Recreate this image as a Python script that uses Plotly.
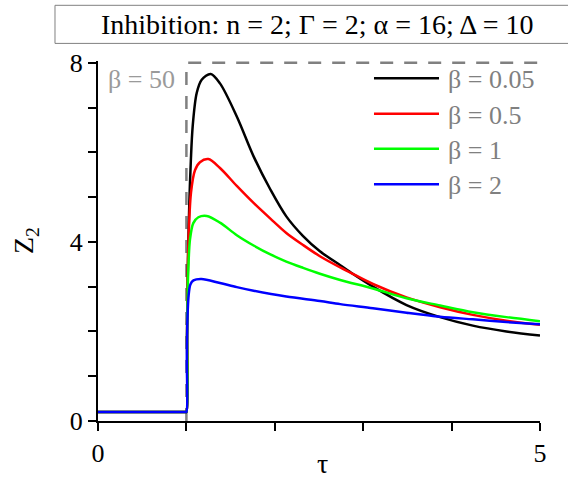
import plotly.graph_objects as go

# ---- data ----
tau_b005 = [0, 0.99, 1.0, 1.008, 1.018, 1.033, 1.05, 1.071, 1.116, 1.173, 1.275, 1.38, 1.57, 1.76,
            1.95, 2.13, 2.32, 2.51, 2.74, 2.85, 3.11, 3.49, 3.87, 4.24, 4.62, 5.0]
z_b005 = [0.2, 0.2, 0.2, 2.0, 3.62, 4.87, 5.8, 6.58, 7.32, 7.62, 7.75, 7.54, 6.80, 5.91,
          5.17, 4.57, 4.13, 3.79, 3.48, 3.33, 3.0, 2.59, 2.32, 2.13, 2.0, 1.91]

tau_b05 = [0, 0.99, 1.0, 1.008, 1.022, 1.052, 1.097, 1.153, 1.248, 1.38, 1.57, 1.76, 1.95, 2.13,
           2.32, 2.51, 2.74, 2.85, 3.11, 3.49, 3.87, 4.24, 4.62, 5.0]
z_b05 = [0.2, 0.2, 0.2, 2.0, 3.91, 5.1, 5.6, 5.78, 5.85, 5.65, 5.25, 4.87, 4.52, 4.20,
         3.93, 3.68, 3.43, 3.32, 3.06, 2.76, 2.54, 2.37, 2.24, 2.15]

tau_b1 = [0, 0.99, 1.0, 1.008, 1.02, 1.041, 1.078, 1.135, 1.23, 1.38, 1.57, 1.76, 1.95, 2.13,
          2.32, 2.51, 2.74, 3.11, 3.49, 3.87, 4.24, 4.62, 5.0]
z_b1 = [0.2, 0.2, 0.2, 2.0, 3.3, 4.06, 4.42, 4.55, 4.58, 4.43, 4.15, 3.92, 3.72, 3.56,
        3.42, 3.29, 3.15, 2.96, 2.74, 2.58, 2.43, 2.32, 2.23]

tau_b2 = [0, 0.99, 1.0, 1.005, 1.012, 1.025, 1.045, 1.08, 1.17, 1.38, 1.57, 1.76, 2.13, 2.51,
          2.74, 3.11, 3.49, 3.87, 4.24, 4.62, 5.0]
z_b2 = [0.2, 0.2, 0.2, 1.4, 2.3, 2.8, 3.05, 3.14, 3.17, 3.08, 2.99, 2.91, 2.78, 2.68,
        2.61, 2.52, 2.42, 2.33, 2.27, 2.21, 2.16]

tau_b50 = [1.0, 1.0, 5.0]
z_b50 = [0.0, 8.0, 8.0]

series_names = ["β = 0.05", "β = 0.5", "β = 1", "β = 2"]
series_colors = ["#000000", "#ff0000", "#00ff00", "#0000ff"]
x_ticks = [0, 5]
y_ticks = [0, 4, 8]
title_text = "Inhibition: n = 2; Γ = 2; α = 16; Δ = 10"

FONT = "Liberation Serif"

fig = go.Figure()
fig.add_trace(go.Scatter(x=tau_b50, y=z_b50, mode="lines", name="β = 50",
                         line=dict(color="#808080", width=2.5, dash="13px,11px"),
                         showlegend=False))
for xs, ys, nm, col in zip([tau_b005, tau_b05, tau_b1, tau_b2],
                           [z_b005, z_b05, z_b1, z_b2],
                           series_names, series_colors):
    fig.add_trace(go.Scatter(x=xs, y=ys, mode="lines", name=nm,
                             line=dict(color=col, width=2.5, shape="spline", smoothing=0.9),
                             showlegend=False))

# manual legend (longer line samples as in the reference)
leg_y = [0.9522, 0.8536, 0.7561, 0.6575]
shapes = []
annotations = []
for yy, nm, col in zip(leg_y, series_names, series_colors):
    shapes.append(dict(type="line", xref="paper", yref="paper",
                       x0=0.6244, x1=0.7715, y0=yy, y1=yy,
                       line=dict(color=col, width=2.5)))
    annotations.append(dict(xref="paper", yref="paper", x=0.7873, y=yy - 0.004,
                            xanchor="left", yanchor="middle", text=nm, showarrow=False,
                            font=dict(family=FONT, size=26, color="#808080")))

# title box
shapes.append(dict(type="rect", xref="paper", yref="paper",
                   x0=-0.0973, x1=1.2, y0=1.0489, y1=1.1547,
                   line=dict(color="#808080", width=1), fillcolor="white"))
annotations.append(dict(xref="paper", yref="paper", x=0.4977, y=1.1018,
                        xanchor="center", yanchor="middle", text=title_text,
                        showarrow=False, font=dict(family=FONT, size=28, color="black")))
# beta = 50 label
annotations.append(dict(xref="paper", yref="paper", x=0.018, y=0.9475,
                        xanchor="left", yanchor="middle", text="β = 50",
                        showarrow=False, font=dict(family=FONT, size=26, color="#9a9a9a")))
# axis titles
annotations.append(dict(xref="paper", yref="paper", x=-0.165, y=0.5,
                        xanchor="center", yanchor="middle", text="Z<sub>2</sub>",
                        textangle=-90, showarrow=False,
                        font=dict(family=FONT, size=28, color="black")))
annotations.append(dict(xref="paper", yref="paper", x=0.507, y=-0.119,
                        xanchor="center", yanchor="middle", text="τ",
                        showarrow=False, font=dict(family=FONT, size=28, color="black")))

axis_common = dict(showline=True, linecolor="black", linewidth=2, showgrid=False,
                   zeroline=False, ticks="outside", ticklen=8, tickwidth=2,
                   tickcolor="black", tickfont=dict(family=FONT, size=26, color="black"),
                   minor=dict(ticks="outside", ticklen=8, tickwidth=2, tickcolor="black",
                              dtick=1, tick0=0, showgrid=False))

fig.update_layout(
    width=568, height=480,
    margin=dict(l=98, r=28, t=61, b=57),
    plot_bgcolor="white", paper_bgcolor="white",
    font=dict(family=FONT),
    xaxis=dict(range=[0, 5], tickvals=x_ticks, **axis_common),
    yaxis=dict(range=[0, 8.04], tickvals=y_ticks, **axis_common),
    shapes=shapes, annotations=annotations,
    showlegend=False,
)

fig.write_html("out.html")
